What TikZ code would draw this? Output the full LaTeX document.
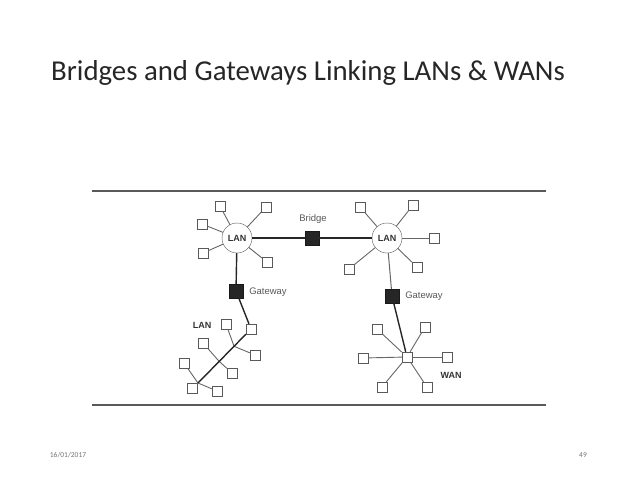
\documentclass[tikz,border=0pt]{standalone}
\usepackage{fontspec}
\setmainfont{Carlito}
\newfontfamily\diagfont{Liberation Sans}
\usetikzlibrary{calc}
\begin{document}
\begin{tikzpicture}[x=1pt, y=-1pt,
  lan/.style={circle, draw=black!65, fill=white, minimum size=30pt, inner sep=0pt,
    font=\diagfont\bfseries\fontsize{9}{10}\selectfont, text=black!80},
  pc/.style={rectangle, draw=black!65, fill=white, minimum size=10pt, inner sep=0pt},
  box/.style={rectangle, draw=black!90, fill=black!85, minimum size=14pt, inner sep=0pt},
  lbl/.style={font=\diagfont\fontsize{9.5}{11}\selectfont, text=black!65},
  spoke/.style={draw=black!60, line width=0.9pt},
  trunk/.style={draw=black!85, line width=1.4pt}]

\useasboundingbox (0,0) rectangle (638,479);

% Slide title
\node[anchor=base west, inner sep=0pt, font=\fontsize{28.8}{32}\selectfont, text=black!85] (title) at (51,80)
  {Bridges and Gateways Linking LANs \& WANs};

% Frame lines of the figure
\draw[black!65, line width=2pt] (92,191) -- (546,191);
\draw[black!65, line width=2pt] (92,405) -- (546,405);

% Hubs, bridge and gateways
\node[lan] (lanA) at (237,238) {LAN};
\node[lan] (lanB) at (387,238) {LAN};
\node[box] (bridge) at (312,238) {};
\node[box] (gwA) at (236,291) {};
\node[box] (gwB) at (392,296) {};
\node[pc] (wan) at (407,357) {};

% Labels
\node[lbl] (bridgeLbl) at (313,219) {Bridge};
\node[lbl] (gwALbl) at (268,292) {Gateway};
\node[lbl] (gwBLbl) at (424,296) {Gateway};
\node[lbl, font=\diagfont\bfseries\fontsize{9}{10}\selectfont, text=black!80] (lanCLbl) at (202,325) {LAN};
\node[lbl, font=\diagfont\bfseries\fontsize{9}{10}\selectfont, text=black!80] (wanLbl) at (451,375) {WAN};

% Stations around the first LAN
\foreach \n/\x/\y in {a1/220/206, a2/266/207, a3/202/224, a4/203/253, a5/267/262} {
    \node[pc] (\n) at (\x,\y) {};
    \draw[spoke] (lanA) -- (\n);
}

% Stations around the second LAN
\foreach \n/\x/\y in {b1/360/207, b2/413/205, b3/434/238, b4/349/269, b5/417/267} {
    \node[pc] (\n) at (\x,\y) {};
    \draw[spoke] (lanB) -- (\n);
}

% Stations around the WAN
\foreach \n/\x/\y in {w1/377/329, w2/425/327, w3/363/358, w4/447/357, w5/382/387, w6/427/387} {
    \node[pc] (\n) at (\x,\y) {};
    \draw[spoke] (wan) -- (\n);
}

% Bus LAN
\node[pc] (c0) at (251,329) {};
\coordinate (busC) at (198,383);
\coordinate (busA) at ($(c0)!0.32!(busC)$);
\coordinate (busB) at ($(c0)!0.6!(busC)$);
\foreach \n/\x/\y/\t in {c1/226/324/busA, c2/255/355/busA, c3/203/343/busB, c4/232/373/busB,
                         c5/184/363/busC, c6/192/388/busC, c7/217/391/busC} {
    \node[pc] (\n) at (\x,\y) {};
    \draw[spoke] (\t) -- (\n);
}

% Trunk connections
\draw[trunk] (lanA) -- (bridge);
\draw[trunk] (bridge) -- (lanB);
\draw[trunk] (lanA) -- (gwA);
\draw[trunk] (gwA) -- (c0);
\draw[trunk] (c0) -- (busC);
\draw[spoke, line width=1pt] (lanB) -- (gwB);
\draw[trunk] (gwB) -- (wan);

% Footer
\node[font=\fontsize{7.5}{9}\selectfont, text=black!55] (date) at (68,455) {16/01/2017};
\node[font=\fontsize{7.5}{9}\selectfont, text=black!55] (page) at (583,455) {49};
\end{tikzpicture}
\end{document}
